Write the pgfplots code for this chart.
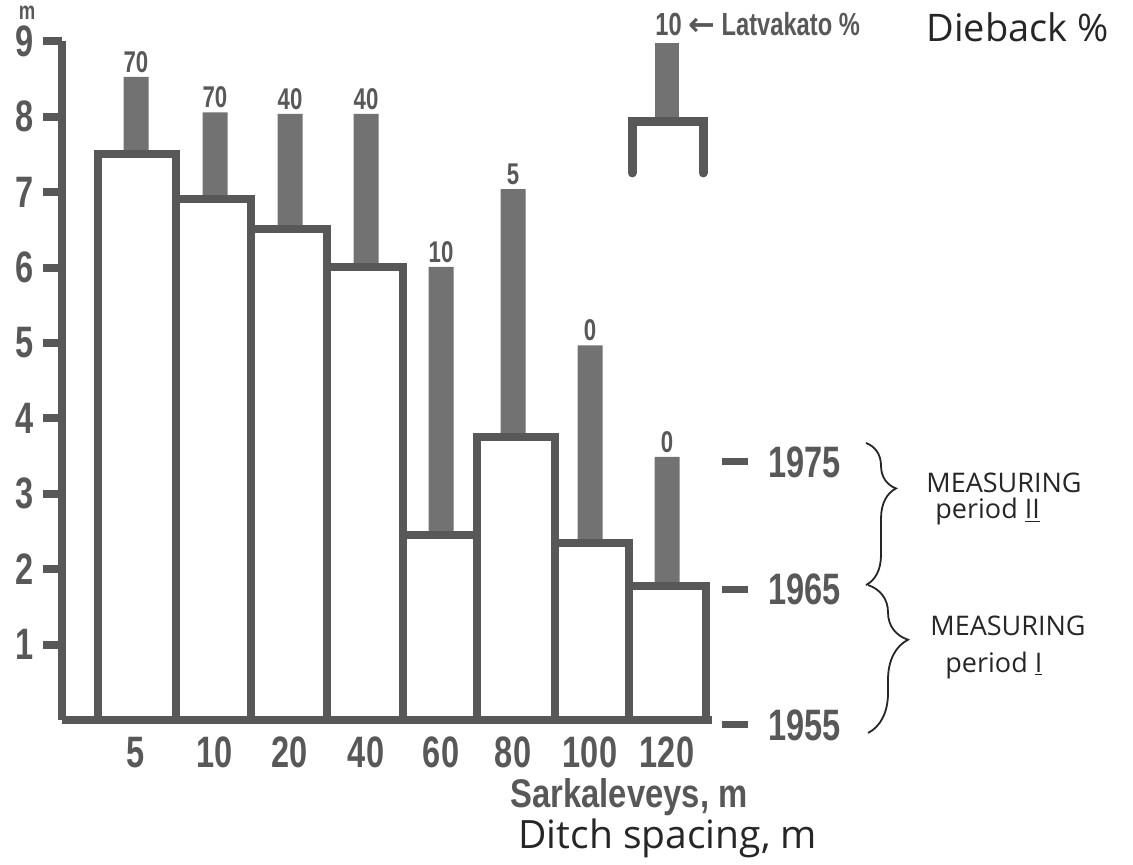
\documentclass[border=0pt]{standalone}
\usepackage{pgfplots}
\pgfplotsset{compat=1.18}
\usepackage{fontspec}
\setmainfont{Liberation Sans}[FakeStretch=0.74]
\newfontfamily\wide{Liberation Sans}[FakeStretch=0.82]
\newfontfamily\hand{Open Sans}
\newfontfamily\arrowfont{DejaVu Sans}
\usetikzlibrary{decorations.pathreplacing}
\definecolor{ink}{HTML}{585858}
\definecolor{barfill}{HTML}{727272}
\definecolor{pen}{HTML}{262626}
\begin{document}
\begin{tikzpicture}
\useasboundingbox (0,0) rectangle (566.5pt,432.5pt);
\begin{axis}[
  at={(31pt,72.5pt)}, anchor=south west,
  x=0.5pt, y=37.7pt,
  xmin=62, xmax=712, ymin=0, ymax=9,
  axis x line*=bottom, axis y line*=left,
  axis line style={line width=4pt, draw=ink, -},
  ytick={1,...,9},
  xtick={136,215,290,366,441,513,590,667},
  xticklabels={5,10,20,40,60,80,100,120},
  major tick length=9.5pt,
  tick align=outside,
  tick style={line width=4pt, draw=ink},
  xtick style={draw=none},
  /pgf/number format/assume math mode=true,
  ticklabel style={font=\bfseries\fontsize{22}{22}\selectfont, text=ink},
  yticklabel style={inner xsep=4.5pt, inner ysep=0pt},
  xticklabel style={inner ysep=0pt, yshift=1.2pt},
  clip=false,
]
% 1975 height (top of grey bar), with dieback % as label
\addplot[ybar, bar width=25, bar shift=0pt, fill=barfill, draw=none,
  point meta=explicit symbolic, nodes near coords,
  nodes near coords style={font=\bfseries\fontsize{15}{15}\selectfont, text=ink, anchor=south, inner sep=2pt}]
  coordinates {(136,8.53)[70] (215,8.06)[70] (290,8.04)[40] (366,8.04)[40]
               (441,6.01)[10] (513,7.04)[5] (590,4.97)[0] (667,3.49)[0]};
% 1965 height (white bars), interval edges
\addplot[ybar interval, fill=white, draw=ink, line width=4pt]
  coordinates {(98,7.5) (176,6.91) (251,6.51) (327,6.01) (403,2.45)
               (477,3.75) (555,2.35) (629,1.78) (706,1.78)};
% y axis unit
\node[anchor=base, text=ink, font=\bfseries\fontsize{12.5}{12.5}\selectfont, inner sep=0pt] at (axis cs:27,9.295) {m};
% key
\fill[barfill] (axis cs:655,7.984) rectangle (axis cs:679,8.979);
\draw[ink, line width=4.5pt, line cap=round, line join=miter] (axis cs:632,7.255) -- (axis cs:632,7.944) -- (axis cs:703,7.944) -- (axis cs:703,7.255);
\node[anchor=west, text=ink, font=\bfseries\fontsize{16}{16}\selectfont, inner sep=0pt] at (axis cs:655,9.231) {10 {\arrowfont\bfseries ←} Latvakato \%};
\node[anchor=west, text=pen, font=\hand\fontsize{19}{19}\selectfont, inner sep=0pt] at (axis cs:926,9.191) {Dieback \%};
% years
\draw[ink, line width=3.5pt] (axis cs:722,3.422) -- (axis cs:748,3.422);
\node[anchor=west, text=ink, font=\bfseries\fontsize{22}{22}\selectfont, inner sep=0pt] at (axis cs:768,3.422) {1975};
\draw[ink, line width=3.5pt] (axis cs:722,1.737) -- (axis cs:748,1.737);
\node[anchor=west, text=ink, font=\bfseries\fontsize{22}{22}\selectfont, inner sep=0pt] at (axis cs:768,1.737) {1965};
\draw[ink, line width=3.5pt] (axis cs:722,-0.066) -- (axis cs:748,-0.066);
\node[anchor=west, text=ink, font=\bfseries\fontsize{22}{22}\selectfont, inner sep=0pt] at (axis cs:768,-0.066) {1955};
% braces
\draw[pen, line width=0.9pt, decorate, decoration={brace, amplitude=15pt, aspect=0.32}] (axis cs:866,3.674) -- (axis cs:866,1.790);
\draw[pen, line width=0.9pt, decorate, decoration={brace, amplitude=20pt, aspect=0.37}] (axis cs:868,1.790) -- (axis cs:868,-0.172);
\node[anchor=west, text=pen, font=\hand\fontsize{13.5}{13.5}\selectfont, inner sep=0pt] at (axis cs:926,3.143) {MEASURING};
\node[anchor=west, text=pen, font=\hand\fontsize{13.5}{13.5}\selectfont, inner sep=0pt] at (axis cs:935,2.759) {period \underline{II}};
\node[anchor=west, text=pen, font=\hand\fontsize{13.5}{13.5}\selectfont, inner sep=0pt] at (axis cs:930,1.247) {MEASURING};
\node[anchor=west, text=pen, font=\hand\fontsize{13.5}{13.5}\selectfont, inner sep=0pt] at (axis cs:945,0.729) {period \underline{I}};
% axis titles
\node[anchor=base east, text=ink, font=\wide\bfseries\fontsize{20}{20}\selectfont, inner sep=0pt] at (axis cs:748,-1.167) {Sarkaleveys, m};
\node[anchor=base west, text=pen, font=\hand\fontsize{19.5}{19.5}\selectfont, inner sep=0pt] at (axis cs:518,-1.71) {Ditch spacing, m};
\end{axis}
\end{tikzpicture}
\end{document}
